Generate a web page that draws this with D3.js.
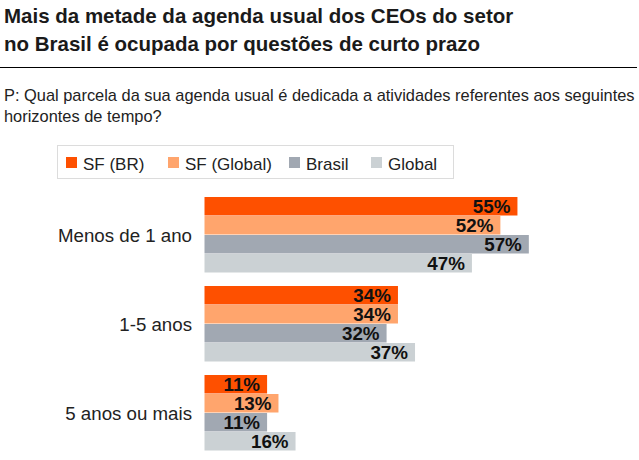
<!DOCTYPE html>
<html>
<head>
<meta charset="utf-8">
<script src="https://cdn.jsdelivr.net/npm/d3@7"></script>
<style>
  body { margin: 0; background: #fff; }
  text { font-family: "Liberation Sans", Arial, sans-serif; }
</style>
</head>
<body>
<div id="chart"></div>
<script>
const width = 639;
const height = 460;

// data
const categories = ["Menos de 1 ano", "1-5 anos", "5 anos ou mais"];
const seriesNames = ["SF (BR)", "SF (Global)", "Brasil", "Global"];
const sfBR = [55, 34, 11];
const sfGlobal = [52, 34, 13];
const brasil = [57, 32, 11];
const global = [47, 37, 16];
const colors = ["#fe5000", "#ffa56d", "#a1a8b2", "#cbd1d4"];

const allSeries = [sfBR, sfGlobal, brasil, global];

const svg = d3.select("#chart").append("svg")
    .attr("width", width)
    .attr("height", height);

// title
svg.append("text").attr("x", 4).attr("y", 23)
    .attr("font-size", 20.5).attr("font-weight", "bold").attr("fill", "#1a1a1a")
    .text("Mais da metade da agenda usual dos CEOs do setor");
svg.append("text").attr("x", 4).attr("y", 51)
    .attr("font-size", 20.5).attr("font-weight", "bold").attr("fill", "#1a1a1a")
    .text("no Brasil é ocupada por questões de curto prazo");

svg.append("line")
    .attr("x1", 0).attr("x2", 637)
    .attr("y1", 67.5).attr("y2", 67.5)
    .attr("stroke", "#000").attr("stroke-width", 1);

svg.append("text").attr("x", 4).attr("y", 101)
    .attr("font-size", 16.4).attr("fill", "#222")
    .text("P: Qual parcela da sua agenda usual é dedicada a atividades referentes aos seguintes");
svg.append("text").attr("x", 4).attr("y", 122)
    .attr("font-size", 16.4).attr("fill", "#222")
    .text("horizontes de tempo?");

// legend
svg.append("rect")
    .attr("x", 57.5).attr("y", 145.5).attr("width", 396).attr("height", 33)
    .attr("fill", "#fff").attr("stroke", "#dcdcdc");

const legendX = [66, 168, 289, 371];
const legend = svg.append("g").selectAll("g")
    .data(seriesNames)
    .enter().append("g")
    .attr("transform", (d, i) => "translate(" + legendX[i] + ",157)");
legend.append("rect")
    .attr("width", 11).attr("height", 11)
    .attr("fill", (d, i) => colors[i]);
legend.append("text")
    .attr("x", 17).attr("y", 12.5)
    .attr("font-size", 17).attr("fill", "#222")
    .text(d => d);

// scales
const x = d3.scaleLinear().domain([0, 100]).range([204.5, 204.5 + 569]);
const y0 = d3.scaleBand().domain(categories).range([197, 451]).paddingInner(13 / 89);
const y1 = d3.scaleBand().domain(seriesNames).range([0, y0.bandwidth()]);

const groups = svg.append("g").selectAll("g")
    .data(categories)
    .enter().append("g")
    .attr("transform", d => "translate(0," + y0(d) + ")");

groups.append("text")
    .attr("x", 192)
    .attr("y", y0.bandwidth() / 2)
    .attr("dy", "0.35em")
    .attr("text-anchor", "end")
    .attr("font-size", 18.7).attr("fill", "#222")
    .text(d => d);

groups.each(function (cat, ci) {
    const g = d3.select(this);
    const rows = seriesNames.map((s, si) => ({ s: s, si: si, v: allSeries[si][ci] }));
    g.selectAll("rect.bar")
        .data(rows)
        .enter().append("rect")
        .attr("class", "bar")
        .attr("x", x(0))
        .attr("y", d => y1(d.s))
        .attr("width", d => x(d.v) - x(0))
        .attr("height", y1.bandwidth() - 0.5)
        .attr("fill", d => colors[d.si]);
    g.selectAll("text.val")
        .data(rows)
        .enter().append("text")
        .attr("class", "val")
        .attr("x", d => x(d.v) - 7)
        .attr("y", d => y1(d.s) + y1.bandwidth() / 2)
        .attr("dy", "0.36em")
        .attr("text-anchor", "end")
        .attr("font-size", 18.8).attr("font-weight", "bold").attr("fill", "#111")
        .text(d => d.v + "%");
});
</script>
</body>
</html>
